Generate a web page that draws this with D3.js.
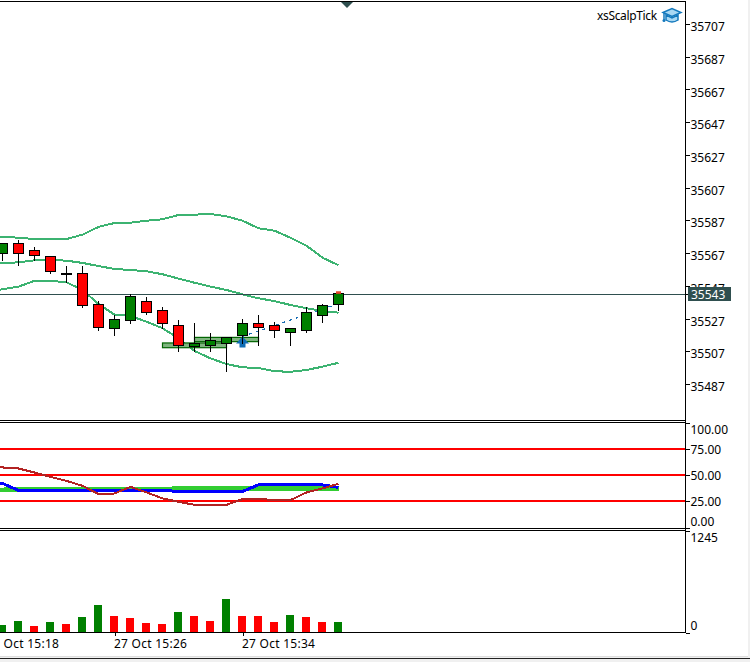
<!DOCTYPE html>
<html>
<head>
<meta charset="utf-8">
<script src="https://cdn.jsdelivr.net/npm/d3@7"></script>
<style>
    html, body { margin: 0; padding: 0; background: #fff; }
    svg { display: block; }
    text { font-family: "Noto Sans", sans-serif; font-size: 12px; fill: #000; }
    .axis text { font-family: "Noto Sans", sans-serif; font-size: 12px; }
    .axis path { display: none; }
    .axis line { stroke: #000; shape-rendering: crispEdges; }
</style>
</head>
<body>
<div id="chart"></div>
<script>
const minutes = ["15:18","15:19","15:20","15:21","15:22","15:23","15:24","15:25","15:26","15:27","15:28","15:29",
    "15:30","15:31","15:32","15:33","15:34","15:35","15:36","15:37","15:38","15:39","15:40"];
const timeTicks = ["15:18", "15:26", "15:34"];

const opens = [35571, 35567.8, 35573.8, 35569.5, 35565.8, 35555.3, 35555.6, 35536.6, 35521.7, 35526.8, 35538.5, 35533,
    35523.8, 35510.7, 35511.3, 35512.5, 35517.4, 35525, 35523.8, 35519.5, 35520.7, 35529.9, 35536.6];
const highs = [35574, 35573.9, 35575.9, 35571.6, 35565.8, 35560, 35560, 35538.6, 35530.1, 35542.7, 35540.9, 35534.8,
    35527, 35525.2, 35519.1, 35516.5, 35527.6, 35530.1, 35525.8, 35522, 35534.8, 35536.8, 35544];
const lows = [35563, 35563.3, 35560.2, 35563.1, 35555.3, 35549.5, 35534.5, 35520.5, 35517.4, 35524.8, 35530.3, 35521.7,
    35507.7, 35507.7, 35507.7, 35495.4, 35512.5, 35511.3, 35516.2, 35511.3, 35519.3, 35525.4, 35532.7];
const closes = [35567.8, 35573.9, 35567.7, 35566.4, 35556.7, 35555.3, 35535.8, 35522.3, 35527.5, 35541.5, 35531.7, 35524.8,
    35511.3, 35512.5, 35514.6, 35516.5, 35525, 35522.3, 35520.7, 35522, 35531.7, 35536, 35543];

const bandUpper = [35577.9, 35577.9, 35577.3, 35576.5, 35576.5, 35576.5, 35579.2, 35583.9, 35586.3, 35586.5, 35587.7, 35588.6,
    35591.2, 35591.4, 35591.8, 35590.4, 35587.7, 35583.1, 35581.6, 35577.3, 35572.4, 35565.1, 35560.5];
const bandMiddle = [35561.2, 35561.7, 35562.3, 35563.5, 35563.7, 35563.3, 35561.9, 35560, 35558.2, 35557.6, 35556.8, 35555,
    35552.3, 35549.8, 35547.4, 35545.4, 35542.7, 35540.3, 35538.6, 35536.2, 35534.2, 35532.5, 35531.5];
const bandLower = [35544, 35545.8, 35547.4, 35551, 35551, 35550.1, 35545.4, 35536.8, 35530.3, 35529.5, 35526, 35522,
    35515.8, 35508.1, 35503.6, 35500.1, 35498.1, 35497.7, 35495.7, 35495.4, 35496.5, 35498.5, 35500.9];

const priceTicks = [35707, 35687, 35667, 35647, 35627, 35607, 35587, 35567, 35547, 35527, 35507, 35487];
const lastPrice = 35542.6;

// boxes and the signal line: [first minute, last minute, price, price]
const boxes = [["15:29", "15:33", 35513, 35510.1], ["15:31", "15:35", 35516.4, 35513.8]];
const signalLine = [["15:34", 35517], ["15:40", 35537]];

const levels = [25, 50, 75];
const oscTicks = [100, 75, 50, 25, 0];
const oscGreen = [35.9, 35.9, 36.5, 36.5, 36.5, 36.5, 36.5, 36.5, 36.5, 36.5, 36.5, 36.5,
    37.2, 37.2, 37.2, 37.2, 37.2, 37.2, 37.2, 37.2, 37.2, 37.2, 37.2];
const oscBlue = [42, 42, 35.3, 35.3, 35.3, 35.3, 35.3, 35.3, 35.3, 35.3, 35.3, 35.3,
    34.4, 34.4, 34.4, 34.4, 34.4, 40.6, 40.6, 40.6, 40.6, 40.6, 38.2];
const oscBrown = [57.8, 57.2, 56.2, 52.4, 48.2, 44.4, 39.7, 31.8, 32.4, 38.7, 33.4, 27.7,
    24.5, 21.6, 21.6, 21.6, 27, 27.3, 26.1, 26.1, 33.4, 37.2, 41.6];

const volumes = [100, 86, 136, 74, 123, 99, 185, 333, 197, 173, 111, 99,
    247, 197, 136, 407, 197, 197, 123, 210, 185, 123, 123];
const volumeUp = [1, 1, 1, 0, 1, 0, 1, 1, 0, 0, 0, 0,
    1, 0, 0, 1, 0, 0, 0, 1, 0, 0, 1];
const volumeTicks = [1245, 0];

const width = 750, height = 662;
const axisX = 685.5;
const bodyW = 10, barW = 8;

const svg = d3.select("#chart").append("svg")
    .attr("width", width)
    .attr("height", height);

const x = d3.scalePoint()
    .domain(minutes)
    .range([-13.5, 338.5]);

const y = d3.scaleLinear()
    .domain([35707, 35487])
    .range([25.5, 385.5]);

const yOsc = d3.scaleLinear()
    .domain([0, 100])
    .range([527.5, 422.5]);

const yVol = d3.scaleLinear()
    .domain([0, 1245])
    .range([632.5, 530.5]);

function hline(yPos, x0, x1, color, w) {
    svg.append("line")
        .attr("x1", x0).attr("x2", x1)
        .attr("y1", yPos).attr("y2", yPos)
        .attr("stroke", color)
        .attr("stroke-width", w || 1)
        .attr("shape-rendering", "crispEdges");
}

// window edge
svg.append("rect").attr("x", 0).attr("y", 657).attr("width", width).attr("height", 5).attr("fill", "#f0f0f0");
svg.append("rect").attr("x", 748).attr("y", 0).attr("width", 2).attr("height", height).attr("fill", "#f0f0f0");
hline(658.5, 0, width, "#222");
hline(656.5, 0, 748, "#ddd");

// ---- price panel
const bandLine = d3.line().x((d, i) => x(minutes[i])).y(d => y(d));
[bandUpper, bandMiddle, bandLower].forEach(band => {
    svg.append("path")
        .attr("d", bandLine(band))
        .attr("fill", "none")
        .attr("stroke", "#3cb371")
        .attr("stroke-width", 2)
        .attr("shape-rendering", "crispEdges");
});

hline(y(lastPrice), 0, axisX, "#2f4f4f");

boxes.forEach(b => {
    svg.append("rect")
        .attr("x", x(b[0]))
        .attr("y", y(b[2]))
        .attr("width", x(b[1]) - x(b[0]))
        .attr("height", y(b[3]) - y(b[2]))
        .attr("fill", "#7fb57f")
        .attr("stroke", "#006400")
        .attr("stroke-width", 1.2);
});

svg.append("line")
    .attr("x1", x(signalLine[0][0])).attr("y1", y(signalLine[0][1]))
    .attr("x2", x(signalLine[1][0])).attr("y2", y(signalLine[1][1]))
    .attr("stroke", "#1a6fb5")
    .attr("stroke-width", 1.2)
    .attr("stroke-dasharray", "3,4")
    .attr("shape-rendering", "crispEdges");

// arrow on the signal bar
const arrowX = x(signalLine[0][0]);
const arrowY = y(signalLine[0][1]);
svg.append("path")
    .attr("transform", "translate(" + arrowX + "," + arrowY + ")")
    .attr("d", "M0,0 L6.5,7 L3,7 L3,11 L-3,11 L-3,7 L-6.5,7 Z")
    .attr("fill", "#0f6cb4");

const candleData = minutes.map((m, i) => ({m: m, o: opens[i], h: highs[i], l: lows[i], c: closes[i]}));

const candles = svg.selectAll(".candle")
    .data(candleData)
    .join("g")
        .attr("class", "candle");

candles.append("line")
    .attr("x1", d => x(d.m)).attr("x2", d => x(d.m))
    .attr("y1", d => y(d.h)).attr("y2", d => y(d.l))
    .attr("stroke", "#000")
    .attr("shape-rendering", "crispEdges");

candles.append("rect")
    .attr("x", d => x(d.m) - bodyW / 2)
    .attr("y", d => y(Math.max(d.o, d.c)))
    .attr("width", bodyW)
    .attr("height", d => Math.max(0.5, Math.abs(y(d.o) - y(d.c))))
    .attr("fill", d => d.c >= d.o ? "#008000" : "#ff0000")
    .attr("stroke", "#000")
    .attr("shape-rendering", "crispEdges");

// small mark above the last bar
svg.append("rect")
    .attr("x", x(minutes[minutes.length - 1]) - 2.5)
    .attr("y", y(35544.6))
    .attr("width", 5)
    .attr("height", y(closes[closes.length - 1]) - y(35544.6))
    .attr("fill", "#e8492c");

const priceAxis = svg.append("g")
    .attr("class", "axis")
    .attr("transform", "translate(" + axisX + ",-1.5)")
    .call(d3.axisRight(y).tickValues(priceTicks).tickSize(4).tickPadding(1).tickFormat(d3.format("d")));
priceAxis.selectAll("text").attr("dy", "0.55em").attr("y", 0);

svg.append("rect")
    .attr("x", 688).attr("y", 287)
    .attr("width", 43).attr("height", 14)
    .attr("fill", "#2f4f4f");
svg.append("text")
    .attr("x", 691).attr("y", 298.5)
    .style("fill", "#fff")
    .text(d3.format("d")(lastPrice));
hline(y(lastPrice), axisX, 688, "#000");

// top marker
svg.append("path").attr("d", "M341,2 L353,2 L347,8 Z").attr("fill", "#2f4f4f");

svg.append("text").attr("x", 597).attr("y", 20).style("letter-spacing", "-0.35px").text("xsScalpTick");
const hat = svg.append("g").attr("transform", "translate(663,8)");
hat.append("path").attr("d", "M3,7 L3,12 Q9,16 15,12 L15,7 L9,10 Z").attr("fill", "#a9d8f3").attr("stroke", "#1479bd").attr("stroke-width", 1.5);
hat.append("path").attr("d", "M0,4.5 L9,0.5 L18,4.5 L9,8.5 Z").attr("fill", "#a9d8f3").attr("stroke", "#1479bd").attr("stroke-width", 1.5);
hat.append("path").attr("d", "M1,5 L1,12").attr("stroke", "#1479bd").attr("stroke-width", 1.5);
hat.append("circle").attr("cx", 1).attr("cy", 12.5).attr("r", 1.5).attr("fill", "#1479bd");

// ---- oscillator panel
levels.forEach(l => hline(yOsc(l), 0, axisX, "#ff0000", 2));

const oscLine = d3.line().x((d, i) => x(minutes[i])).y(d => yOsc(d));
[[oscGreen, "#32cd32", 4.5], [oscBlue, "#0000ff", 3], [oscBrown, "#b22222", 2]].forEach(s => {
    svg.append("path")
        .attr("d", oscLine(s[0]))
        .attr("fill", "none")
        .attr("stroke", s[1])
        .attr("stroke-width", s[2])
        .attr("shape-rendering", "crispEdges");
});

const oscAxis = svg.append("g")
    .attr("class", "axis")
    .attr("transform", "translate(" + axisX + ",0)")
    .call(d3.axisRight(yOsc).tickValues(oscTicks).tickSize(4).tickPadding(1).tickFormat(d3.format(".2f")));
oscAxis.selectAll("text")
    .attr("dy", d => d === 100 ? "0.95em" : d === 0 ? "-0.2em" : "0.36em");

// ---- volume panel
svg.selectAll(".vol")
    .data(volumes)
    .join("rect")
        .attr("class", "vol")
        .attr("x", (d, i) => x(minutes[i]) - barW / 2 - 0.5)
        .attr("y", d => yVol(d))
        .attr("width", barW)
        .attr("height", d => yVol(0) - yVol(d))
        .attr("fill", (d, i) => volumeUp[i] ? "#008000" : "#ff0000")
        .attr("shape-rendering", "crispEdges");

const volAxis = svg.append("g")
    .attr("class", "axis")
    .attr("transform", "translate(" + axisX + ",0)")
    .call(d3.axisRight(yVol).tickValues(volumeTicks).tickSize(4).tickPadding(1).tickFormat(d3.format("d")));
volAxis.selectAll("text")
    .attr("dy", d => d === 0 ? "-0.25em" : "0.95em");

const timeAxis = svg.append("g")
    .attr("class", "axis")
    .attr("transform", "translate(0,632)")
    .call(d3.axisBottom(x).tickValues(timeTicks).tickSize(4).tickPadding(3).tickFormat(d => "27 Oct " + d));
timeAxis.selectAll("text").attr("text-anchor", "start").attr("dx", "-1").style("letter-spacing", "0.25px");

// ---- frame lines
hline(1.5, 0, axisX, "#000");
hline(420.5, 0, axisX, "#000");
hline(422.5, 0, axisX, "#000");
hline(528.5, 0, axisX, "#000");
hline(530.5, 0, axisX, "#000");
hline(632.5, 0, axisX, "#000");
svg.append("line")
    .attr("x1", axisX).attr("x2", axisX)
    .attr("y1", 1).attr("y2", 633)
    .attr("stroke", "#000")
    .attr("shape-rendering", "crispEdges");
</script>
</body>
</html>
